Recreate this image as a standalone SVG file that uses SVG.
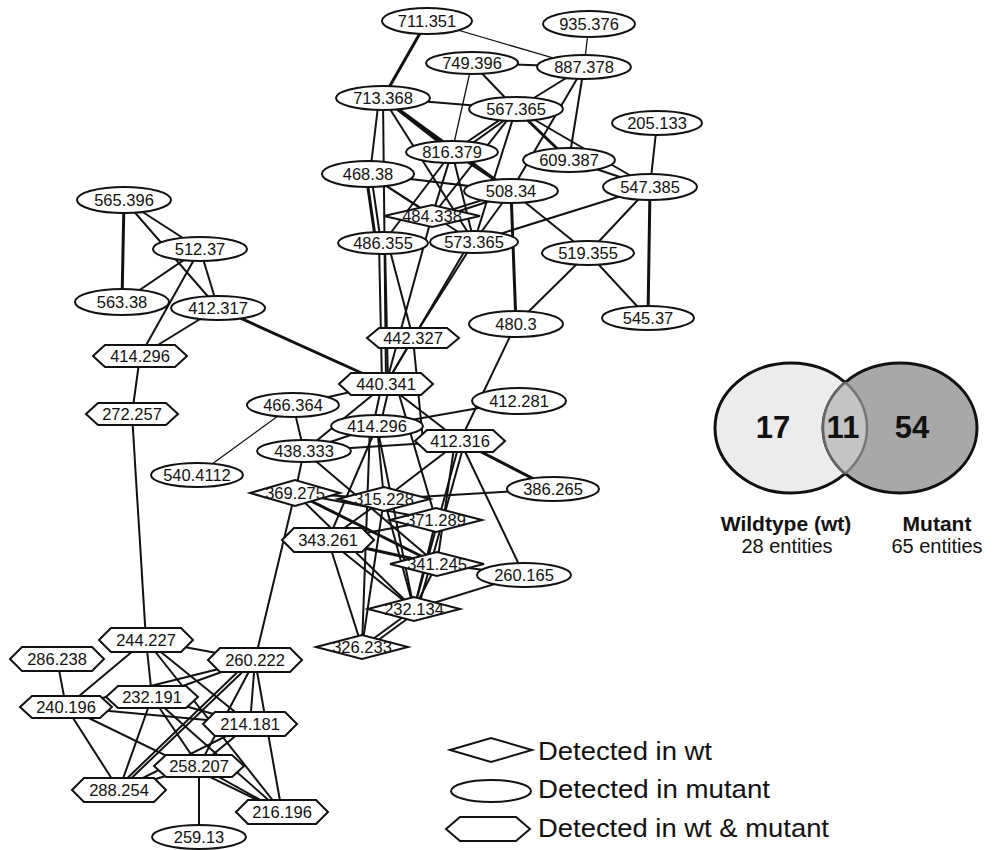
<svg xmlns="http://www.w3.org/2000/svg" width="997" height="850" viewBox="0 0 997 850">
<style>
.n ellipse,.n polygon{fill:#fff;stroke:#111;stroke-width:2}
.n text{font-family:"Liberation Sans",Arial,sans-serif;font-size:16.5px;text-anchor:middle;fill:#111}
#edges line{stroke:#111;stroke-width:2}
#edges line.k{stroke-width:3}
#edges line.s{stroke-width:1.3}
.lg{font-family:"Liberation Sans",Arial,sans-serif;font-size:26px;fill:#111}
.vn{font-family:"Liberation Sans",Arial,sans-serif;font-size:31px;font-weight:bold;text-anchor:middle;fill:#111}
.vb{font-family:"Liberation Sans",Arial,sans-serif;font-size:21px;font-weight:bold;text-anchor:middle;fill:#111}
.vt{font-family:"Liberation Sans",Arial,sans-serif;font-size:20px;text-anchor:middle;fill:#111}
</style>
<defs>
<clipPath id="cl"><ellipse cx="791" cy="428" rx="76" ry="65"/></clipPath>
<clipPath id="cr"><ellipse cx="900" cy="428" rx="77" ry="65"/></clipPath>
</defs>
<rect width="997" height="850" fill="#fff"/>
<g id="edges">
<line class="k" x1="427" y1="21" x2="383" y2="98"/>
<line class="s" x1="427" y1="21" x2="584" y2="67"/>
<line class="s" x1="589" y1="24" x2="584" y2="67"/>
<line x1="472" y1="63" x2="584" y2="67"/>
<line x1="472" y1="63" x2="516" y2="109"/>
<line class="s" x1="472" y1="63" x2="452" y2="152"/>
<line x1="383" y1="98" x2="516" y2="109"/>
<line x1="584" y1="67" x2="516" y2="109"/>
<line x1="584" y1="67" x2="511" y2="191"/>
<line x1="584" y1="67" x2="569" y2="160"/>
<line class="k" x1="516" y1="109" x2="569" y2="160"/>
<line x1="516" y1="109" x2="650" y2="187"/>
<line x1="569" y1="160" x2="650" y2="187"/>
<line x1="516" y1="109" x2="452" y2="152"/>
<line x1="520" y1="109" x2="456" y2="155"/>
<line x1="516" y1="109" x2="432" y2="216"/>
<line x1="516" y1="109" x2="474" y2="242"/>
<line class="k" x1="383" y1="98" x2="452" y2="152"/>
<line x1="379" y1="98" x2="370" y2="174"/>
<line x1="383" y1="98" x2="386" y2="384"/>
<line class="k" x1="383" y1="98" x2="511" y2="191"/>
<line x1="383" y1="98" x2="474" y2="242"/>
<line x1="368" y1="174" x2="511" y2="191"/>
<line x1="368" y1="174" x2="432" y2="216"/>
<line x1="368" y1="174" x2="474" y2="242"/>
<line class="k" x1="366" y1="174" x2="376" y2="243"/>
<line x1="371" y1="174" x2="381" y2="243"/>
<line x1="452" y1="152" x2="432" y2="216"/>
<line x1="452" y1="152" x2="383" y2="243"/>
<line x1="452" y1="152" x2="474" y2="242"/>
<line x1="452" y1="152" x2="511" y2="191"/>
<line x1="511" y1="191" x2="432" y2="216"/>
<line x1="511" y1="194" x2="432" y2="220"/>
<line x1="511" y1="191" x2="474" y2="242"/>
<line class="k" x1="511" y1="191" x2="516" y2="324"/>
<line x1="511" y1="191" x2="588" y2="253"/>
<line x1="650" y1="187" x2="474" y2="242"/>
<line x1="650" y1="187" x2="588" y2="253"/>
<line class="k" x1="650" y1="187" x2="648" y2="318"/>
<line x1="657" y1="123" x2="650" y2="187"/>
<line x1="588" y1="253" x2="648" y2="318"/>
<line x1="588" y1="253" x2="516" y2="324"/>
<line x1="516" y1="324" x2="460" y2="441"/>
<line x1="379" y1="243" x2="382" y2="384"/>
<line x1="385" y1="243" x2="388" y2="384"/>
<line x1="388" y1="243" x2="413" y2="338"/>
<line x1="474" y1="242" x2="413" y2="338"/>
<line x1="470" y1="242" x2="386" y2="384"/>
<line x1="432" y1="216" x2="386" y2="384"/>
<line x1="413" y1="338" x2="386" y2="384"/>
<line x1="413" y1="338" x2="423" y2="441"/>
<line class="k" x1="218" y1="308" x2="386" y2="384"/>
<line x1="386" y1="384" x2="293" y2="405"/>
<line x1="382" y1="384" x2="373" y2="426"/>
<line x1="390" y1="384" x2="380" y2="426"/>
<line x1="386" y1="384" x2="460" y2="441"/>
<line x1="386" y1="384" x2="304" y2="451"/>
<line x1="396" y1="384" x2="436" y2="520"/>
<line x1="519" y1="401" x2="377" y2="426"/>
<line x1="293" y1="405" x2="304" y2="451"/>
<line class="s" x1="293" y1="405" x2="197" y2="475"/>
<line x1="377" y1="426" x2="304" y2="451"/>
<line x1="304" y1="451" x2="460" y2="441"/>
<line x1="304" y1="451" x2="295" y2="493"/>
<line x1="304" y1="451" x2="437" y2="564"/>
<line x1="377" y1="426" x2="384" y2="499"/>
<line x1="377" y1="426" x2="328" y2="540"/>
<line x1="377" y1="426" x2="414" y2="609"/>
<line x1="370" y1="426" x2="362" y2="647"/>
<line class="k" x1="460" y1="441" x2="553" y2="489"/>
<line x1="460" y1="441" x2="524" y2="575"/>
<line x1="460" y1="441" x2="414" y2="609"/>
<line x1="465" y1="441" x2="418" y2="609"/>
<line x1="460" y1="441" x2="384" y2="499"/>
<line x1="455" y1="441" x2="437" y2="564"/>
<line x1="384" y1="499" x2="553" y2="489"/>
<line x1="295" y1="493" x2="384" y2="499"/>
<line x1="295" y1="493" x2="436" y2="520"/>
<line class="k" x1="295" y1="493" x2="437" y2="564"/>
<line x1="295" y1="493" x2="414" y2="609"/>
<line x1="295" y1="493" x2="255" y2="660"/>
<line x1="384" y1="499" x2="328" y2="540"/>
<line x1="384" y1="499" x2="414" y2="609"/>
<line x1="384" y1="499" x2="362" y2="647"/>
<line x1="328" y1="540" x2="436" y2="520"/>
<line class="k" x1="328" y1="540" x2="437" y2="564"/>
<line x1="328" y1="540" x2="414" y2="609"/>
<line x1="328" y1="540" x2="362" y2="647"/>
<line x1="436" y1="520" x2="414" y2="609"/>
<line x1="437" y1="564" x2="414" y2="609"/>
<line x1="437" y1="564" x2="524" y2="575"/>
<line x1="524" y1="575" x2="414" y2="609"/>
<line x1="414" y1="609" x2="362" y2="647"/>
<line x1="418" y1="611" x2="366" y2="649"/>
<line class="k" x1="124" y1="200" x2="122" y2="302"/>
<line x1="124" y1="200" x2="200" y2="249"/>
<line x1="124" y1="200" x2="218" y2="308"/>
<line x1="200" y1="249" x2="122" y2="302"/>
<line x1="200" y1="249" x2="218" y2="308"/>
<line x1="200" y1="249" x2="140" y2="356"/>
<line x1="218" y1="308" x2="140" y2="356"/>
<line x1="140" y1="356" x2="132" y2="414"/>
<line x1="132" y1="414" x2="146" y2="640"/>
<line x1="146" y1="640" x2="255" y2="660"/>
<line x1="146" y1="640" x2="66" y2="707"/>
<line x1="146" y1="640" x2="152" y2="697"/>
<line x1="146" y1="640" x2="250" y2="724"/>
<line x1="146" y1="640" x2="282" y2="812"/>
<line x1="57" y1="659" x2="66" y2="707"/>
<line x1="255" y1="660" x2="152" y2="697"/>
<line x1="255" y1="660" x2="66" y2="707"/>
<line x1="255" y1="660" x2="119" y2="790"/>
<line x1="250" y1="660" x2="115" y2="790"/>
<line x1="255" y1="660" x2="199" y2="766"/>
<line x1="255" y1="660" x2="250" y2="724"/>
<line x1="255" y1="660" x2="282" y2="812"/>
<line x1="152" y1="697" x2="119" y2="790"/>
<line x1="152" y1="697" x2="250" y2="724"/>
<line x1="152" y1="697" x2="199" y2="766"/>
<line x1="152" y1="697" x2="282" y2="812"/>
<line x1="66" y1="707" x2="250" y2="724"/>
<line x1="66" y1="707" x2="119" y2="790"/>
<line x1="66" y1="707" x2="282" y2="812"/>
<line x1="250" y1="724" x2="199" y2="766"/>
<line x1="250" y1="724" x2="119" y2="790"/>
<line x1="199" y1="766" x2="119" y2="790"/>
<line x1="199" y1="766" x2="199" y2="837"/>
<line x1="199" y1="766" x2="282" y2="812"/>
</g>
<g id="n711" class="n"><ellipse cx="427" cy="21" rx="45" ry="13"/><text x="427" y="27">711.351</text></g>
<g id="n935" class="n"><ellipse cx="589" cy="24" rx="46" ry="13"/><text x="589" y="30">935.376</text></g>
<g id="n749" class="n"><ellipse cx="472" cy="63" rx="46" ry="11"/><text x="472" y="69">749.396</text></g>
<g id="n887" class="n"><ellipse cx="584" cy="67" rx="47" ry="12"/><text x="584" y="73">887.378</text></g>
<g id="n713" class="n"><ellipse cx="383" cy="98" rx="47" ry="12"/><text x="383" y="104">713.368</text></g>
<g id="n567" class="n"><ellipse cx="516" cy="109" rx="47" ry="12"/><text x="516" y="115">567.365</text></g>
<g id="n205" class="n"><ellipse cx="657" cy="123" rx="45" ry="12"/><text x="657" y="129">205.133</text></g>
<g id="n816" class="n"><ellipse cx="452" cy="152" rx="46" ry="11"/><text x="452" y="158">816.379</text></g>
<g id="n609" class="n"><ellipse cx="569" cy="160" rx="46" ry="12"/><text x="569" y="166">609.387</text></g>
<g id="n468" class="n"><ellipse cx="368" cy="174" rx="46" ry="13"/><text x="368" y="180">468.38</text></g>
<g id="n508" class="n"><ellipse cx="511" cy="191" rx="47" ry="12"/><text x="511" y="197">508.34</text></g>
<g id="n547" class="n"><ellipse cx="650" cy="187" rx="47" ry="13"/><text x="650" y="193">547.385</text></g>
<g id="n484" class="n"><polygon points="384,216 432,205 480,216 432,227"/><text x="432" y="222">484.338</text></g>
<g id="n486" class="n"><ellipse cx="383" cy="243" rx="45" ry="11"/><text x="383" y="249">486.355</text></g>
<g id="n573" class="n"><ellipse cx="474" cy="242" rx="44" ry="11"/><text x="474" y="248">573.365</text></g>
<g id="n519" class="n"><ellipse cx="588" cy="253" rx="46" ry="12"/><text x="588" y="259">519.355</text></g>
<g id="n545" class="n"><ellipse cx="648" cy="318" rx="46" ry="12"/><text x="648" y="324">545.37</text></g>
<g id="n480" class="n"><ellipse cx="516" cy="324" rx="47" ry="13"/><text x="516" y="330">480.3</text></g>
<g id="n442" class="n"><polygon points="367,338 379,328 447,328 459,338 447,348 379,348"/><text x="413" y="344">442.327</text></g>
<g id="n440" class="n"><polygon points="339,384 351,373 421,373 433,384 421,395 351,395"/><text x="386" y="390">440.341</text></g>
<g id="n412_281" class="n"><ellipse cx="519" cy="401" rx="47" ry="13"/><text x="519" y="407">412.281</text></g>
<g id="n466" class="n"><ellipse cx="293" cy="405" rx="46" ry="12"/><text x="293" y="411">466.364</text></g>
<g id="n414c" class="n"><ellipse cx="377" cy="426" rx="46" ry="11"/><text x="377" y="432">414.296</text></g>
<g id="n412_316" class="n"><polygon points="415,441 427,430 493,430 505,441 493,452 427,452"/><text x="460" y="447">412.316</text></g>
<g id="n438" class="n"><ellipse cx="304" cy="451" rx="47" ry="11"/><text x="304" y="457">438.333</text></g>
<g id="n540" class="n"><ellipse cx="197" cy="475" rx="46" ry="12"/><text x="197" y="481">540.4112</text></g>
<g id="n386" class="n"><ellipse cx="553" cy="489" rx="46" ry="12"/><text x="553" y="495">386.265</text></g>
<g id="n369" class="n"><polygon points="250,493 295,480 340,493 295,506"/><text x="295" y="499">369.275</text></g>
<g id="n315" class="n"><polygon points="338,499 384,487 430,499 384,511"/><text x="384" y="505">315.228</text></g>
<g id="n371" class="n"><polygon points="390,520 436,508 482,520 436,532"/><text x="436" y="526">371.289</text></g>
<g id="n343" class="n"><polygon points="282,540 294,528 362,528 374,540 362,552 294,552"/><text x="328" y="546">343.261</text></g>
<g id="n341" class="n"><polygon points="390,564 437,552 484,564 437,576"/><text x="437" y="570">341.245</text></g>
<g id="n260_165" class="n"><ellipse cx="524" cy="575" rx="47" ry="12"/><text x="524" y="581">260.165</text></g>
<g id="n232_134" class="n"><polygon points="368,609 414,597 460,609 414,621"/><text x="414" y="615">232.134</text></g>
<g id="n326" class="n"><polygon points="316,647 362,635 408,647 362,659"/><text x="362" y="653">326.233</text></g>
<g id="n565" class="n"><ellipse cx="124" cy="200" rx="47" ry="13"/><text x="124" y="206">565.396</text></g>
<g id="n512" class="n"><ellipse cx="200" cy="249" rx="47" ry="12"/><text x="200" y="255">512.37</text></g>
<g id="n563" class="n"><ellipse cx="122" cy="302" rx="47" ry="13"/><text x="122" y="308">563.38</text></g>
<g id="n412_317" class="n"><ellipse cx="218" cy="308" rx="47" ry="12"/><text x="218" y="314">412.317</text></g>
<g id="n414L" class="n"><polygon points="93,356 105,345 175,345 187,356 175,367 105,367"/><text x="140" y="362">414.296</text></g>
<g id="n272" class="n"><polygon points="86,414 98,403 166,403 178,414 166,425 98,425"/><text x="132" y="420">272.257</text></g>
<g id="n244" class="n"><polygon points="99,640 111,628 181,628 193,640 181,652 111,652"/><text x="146" y="646">244.227</text></g>
<g id="n286" class="n"><polygon points="10,659 22,647 92,647 104,659 92,671 22,671"/><text x="57" y="665">286.238</text></g>
<g id="n260_222" class="n"><polygon points="208,660 220,648 290,648 302,660 290,672 220,672"/><text x="255" y="666">260.222</text></g>
<g id="n232_191" class="n"><polygon points="106,697 118,686 186,686 198,697 186,708 118,708"/><text x="152" y="703">232.191</text></g>
<g id="n240" class="n"><polygon points="20,707 32,696 100,696 112,707 100,718 32,718"/><text x="66" y="713">240.196</text></g>
<g id="n214" class="n"><polygon points="203,724 215,712 285,712 297,724 285,736 215,736"/><text x="250" y="730">214.181</text></g>
<g id="n258" class="n"><polygon points="154,766 166,755 232,755 244,766 232,777 166,777"/><text x="199" y="772">258.207</text></g>
<g id="n288" class="n"><polygon points="72,790 84,778 154,778 166,790 154,802 84,802"/><text x="119" y="796">288.254</text></g>
<g id="n216" class="n"><polygon points="236,812 248,800 316,800 328,812 316,824 248,824"/><text x="282" y="818">216.196</text></g>
<g id="n259" class="n"><ellipse cx="199" cy="837" rx="47" ry="12"/><text x="199" y="843">259.13</text></g>
<g id="legend">
<g class="n"><polygon points="450,750 491,738 532,750 491,762"/></g>
<text class="lg" x="538" y="760" textLength="174" lengthAdjust="spacingAndGlyphs">Detected in wt</text>
<g class="n"><ellipse cx="491" cy="791" rx="40" ry="11"/></g>
<text class="lg" x="538" y="798" textLength="232" lengthAdjust="spacingAndGlyphs">Detected in mutant</text>
<g class="n"><polygon points="446,829 460,817 516,817 530,829 516,841 460,841"/></g>
<text class="lg" x="538" y="837" textLength="291" lengthAdjust="spacingAndGlyphs">Detected in wt &amp; mutant</text>
</g>
<g id="venn">
<ellipse cx="791" cy="428" rx="76" ry="65" fill="#ececec" stroke="#111" stroke-width="3"/>
<ellipse cx="900" cy="428" rx="77" ry="65" fill="#a8a8a8" stroke="#111" stroke-width="3"/>
<ellipse cx="900" cy="428" rx="77" ry="65" fill="#c4c4c4" clip-path="url(#cl)"/>
<ellipse cx="791" cy="428" rx="76" ry="65" fill="none" stroke="#777" stroke-width="2.5" clip-path="url(#cr)"/>
<ellipse cx="900" cy="428" rx="77" ry="65" fill="none" stroke="#666" stroke-width="2.5" clip-path="url(#cl)"/>
<text class="vn" x="773" y="438">17</text>
<text class="vn" x="843" y="438">11</text>
<text class="vn" x="912" y="438">54</text>
<text class="vb" x="786" y="531">Wildtype (wt)</text>
<text class="vt" x="787" y="553">28 entities</text>
<text class="vb" x="937" y="531">Mutant</text>
<text class="vt" x="937" y="553">65 entities</text>
</g>
</svg>
